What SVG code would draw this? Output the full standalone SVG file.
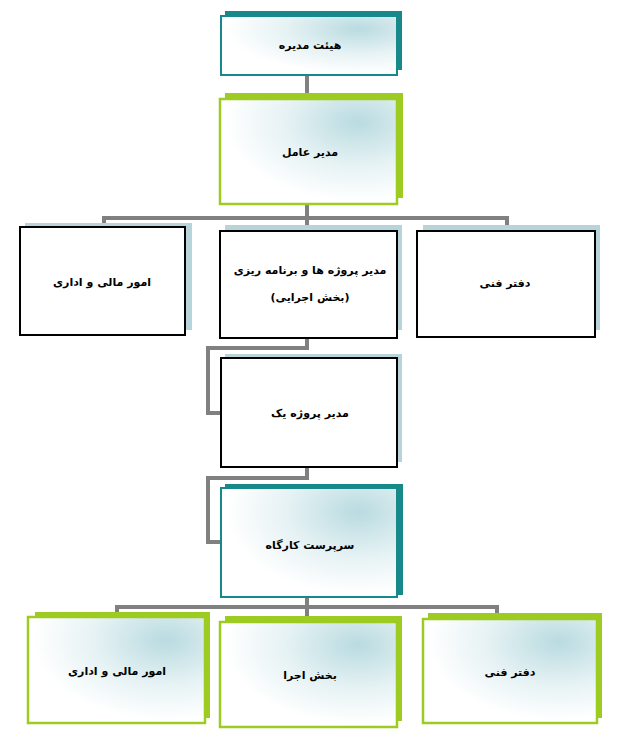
<svg xmlns="http://www.w3.org/2000/svg" width="623" height="756" viewBox="0 0 623 756">
<defs>
<radialGradient id="g" cx="0.78" cy="0.22" r="0.75" fx="0.78" fy="0.22">
<stop offset="0" stop-color="#b9dbe0"/>
<stop offset="0.55" stop-color="#e6f2f4"/>
<stop offset="1" stop-color="#ffffff"/>
</radialGradient>
<style>
.sh-teal{fill:#17898b}
.sh-green{fill:#9dcb22}
.sh-blue{fill:#b7d4db}
.fr-teal{fill:url(#g);stroke:#17898b;stroke-width:2}
.fr-green{fill:url(#g);stroke:#9dcb22;stroke-width:2.5}
.fr-black{fill:#ffffff;stroke:#000000;stroke-width:2}
.conn{fill:none;stroke:#808080;stroke-width:4}
text{font-family:"DejaVu Sans","Noto Sans",sans-serif;font-weight:bold;font-size:11px;fill:#000;text-anchor:middle;direction:rtl}
</style>
</defs>
<rect width="623" height="756" fill="#ffffff"/>
<g id="connectors">
<path class="conn" d="M307 75 V95"/>
<path class="conn" d="M307 204 V231"/>
<path class="conn" d="M104 225 V218 H507 V226"/>
<path class="conn" d="M307 338 V348 H208 V413 H221"/>
<path class="conn" d="M307 467 V478 H208 V542 H221"/>
<path class="conn" d="M307 597 V622"/>
<path class="conn" d="M117 614 V607 H497 V614"/>
</g>
<g id="n1">
<rect class="sh-teal" x="225" y="11" width="177" height="59"/>
<rect class="fr-teal" x="221" y="16" width="176" height="59"/>
<text x="310" y="49">هیئت مدیره</text>
</g>
<g id="n2">
<rect class="sh-green" x="225" y="93" width="178" height="105"/>
<rect class="fr-green" x="220" y="99" width="177" height="105"/>
<text x="310" y="156">مدیر عامل</text>
</g>
<g id="n3">
<rect class="sh-blue" x="25" y="223" width="167" height="107"/>
<rect class="fr-black" x="20" y="227" width="165" height="108"/>
<text x="102" y="286">امور مالی  و اداری</text>
</g>
<g id="n4">
<rect class="sh-blue" x="225" y="225" width="177" height="105"/>
<rect class="fr-black" x="220" y="231" width="177" height="107"/>
<text x="310" y="274">مدیر پروژه ها و برنامه ریزی</text>
<text x="310" y="301">(بخش اجرایی)</text>
</g>
<g id="n5">
<rect class="sh-blue" x="423" y="225" width="177" height="105"/>
<rect class="fr-black" x="417" y="231" width="178" height="106"/>
<text x="505" y="287">دفتر فنی</text>
</g>
<g id="n6">
<rect class="sh-blue" x="225" y="354" width="177" height="108"/>
<rect class="fr-black" x="221" y="358" width="176" height="109"/>
<text x="310" y="417">مدیر پروژه یک</text>
</g>
<g id="n7">
<rect class="sh-teal" x="225" y="484" width="178" height="111"/>
<rect class="fr-teal" x="221" y="488" width="176" height="109"/>
<text x="310" y="549">سرپرست کارگاه</text>
</g>
<g id="n8">
<rect class="sh-green" x="35" y="612" width="175" height="106"/>
<rect class="fr-green" x="28" y="617" width="177" height="106"/>
<text x="117" y="675">امور مالی  و اداری</text>
</g>
<g id="n9">
<rect class="sh-green" x="225" y="616" width="177" height="105"/>
<rect class="fr-green" x="220" y="622" width="177" height="105"/>
<text x="310" y="679">بخش اجرا</text>
</g>
<g id="n10">
<rect class="sh-green" x="428" y="613" width="174" height="105"/>
<rect class="fr-green" x="423" y="619" width="174" height="104"/>
<text x="510" y="676">دفتر فنی</text>
</g>
</svg>
